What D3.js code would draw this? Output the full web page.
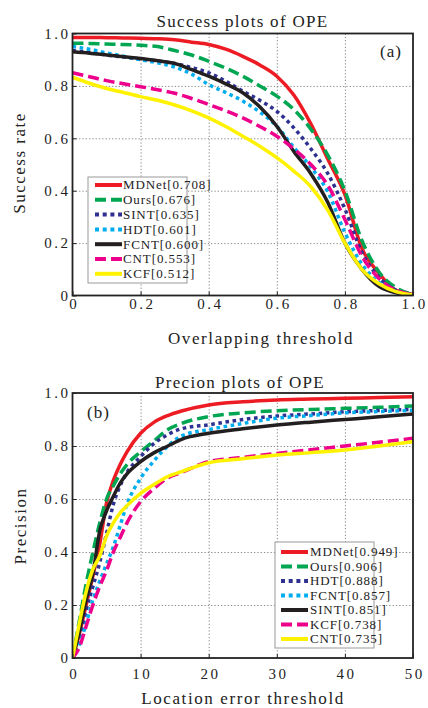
<!DOCTYPE html>
<html>
<head>
<meta charset="utf-8">
<script src="https://cdn.jsdelivr.net/npm/d3@7.9.0/dist/d3.min.js"></script>
<style>
body { margin: 0; background: #fff; }
text { font-family: "Liberation Serif", "Times New Roman", serif; fill: #222; }
</style>
</head>
<body>
<svg id="chart" width="428" height="708"></svg>
<script>
// success plot (a): overlap thresholds 0..1
const successX = [0, 0.05, 0.1, 0.15, 0.2, 0.25, 0.3, 0.35, 0.4, 0.45, 0.5, 0.55, 0.6, 0.65, 0.7, 0.75, 0.8, 0.85, 0.9, 0.95, 1];
const successNames = ['MDNet', 'Ours', 'SINT', 'HDT', 'FCNT', 'CNT', 'KCF'];
const successScores = ['0.708', '0.676', '0.635', '0.601', '0.600', '0.553', '0.512'];
const sucMDNet = [0.985, 0.985, 0.984, 0.983, 0.982, 0.98, 0.976, 0.967, 0.958, 0.94, 0.913, 0.88, 0.837, 0.765, 0.655, 0.52, 0.385, 0.18, 0.085, 0.02, 0.005];
const sucOurs = [0.963, 0.962, 0.96, 0.958, 0.955, 0.95, 0.935, 0.918, 0.894, 0.868, 0.837, 0.8, 0.761, 0.71, 0.635, 0.535, 0.4, 0.21, 0.09, 0.03, 0.005];
const sucSINT = [0.935, 0.928, 0.918, 0.91, 0.902, 0.895, 0.886, 0.87, 0.85, 0.818, 0.78, 0.745, 0.703, 0.64, 0.56, 0.465, 0.33, 0.165, 0.07, 0.02, 0.005];
const sucHDT = [0.95, 0.94, 0.926, 0.913, 0.9, 0.888, 0.872, 0.845, 0.805, 0.775, 0.742, 0.7, 0.646, 0.565, 0.49, 0.395, 0.24, 0.12, 0.05, 0.015, 0.003];
const sucFCNT = [0.93, 0.925, 0.918, 0.911, 0.905, 0.896, 0.886, 0.862, 0.837, 0.808, 0.774, 0.72, 0.646, 0.55, 0.465, 0.355, 0.2, 0.1, 0.035, 0.01, 0.0];
const sucCNT = [0.85, 0.835, 0.82, 0.808, 0.797, 0.785, 0.772, 0.752, 0.729, 0.705, 0.678, 0.645, 0.608, 0.56, 0.5, 0.42, 0.29, 0.15, 0.065, 0.02, 0.005];
const sucKCF = [0.833, 0.81, 0.79, 0.775, 0.759, 0.745, 0.727, 0.705, 0.678, 0.645, 0.608, 0.57, 0.526, 0.475, 0.415, 0.325, 0.2, 0.1, 0.045, 0.015, 0.003];

// precision plot (b): location error thresholds 0..50
const precisionX = [0, 1, 2, 3, 4, 5, 6, 7, 8, 10, 12, 14, 16, 20, 25, 30, 35, 40, 45, 50];
const precisionNames = ['MDNet', 'Ours', 'HDT', 'FCNT', 'SINT', 'KCF', 'CNT'];
const precisionScores = ['0.949', '0.906', '0.888', '0.857', '0.851', '0.738', '0.735'];
const preMDNet = [0, 0.09, 0.2, 0.31, 0.43, 0.585, 0.67, 0.73, 0.778, 0.848, 0.89, 0.915, 0.932, 0.955, 0.967, 0.974, 0.977, 0.98, 0.983, 0.986];
const preOurs = [0, 0.14, 0.28, 0.4, 0.51, 0.6, 0.65, 0.695, 0.73, 0.778, 0.82, 0.862, 0.885, 0.911, 0.925, 0.933, 0.938, 0.942, 0.946, 0.951];
const preHDT = [0, 0.06, 0.18, 0.27, 0.36, 0.47, 0.58, 0.65, 0.7, 0.76, 0.81, 0.843, 0.865, 0.88, 0.9, 0.913, 0.921, 0.929, 0.934, 0.938];
const preFCNT = [0, 0.05, 0.13, 0.22, 0.29, 0.355, 0.42, 0.5, 0.58, 0.678, 0.745, 0.8, 0.838, 0.862, 0.885, 0.905, 0.915, 0.925, 0.93, 0.935];
const preSINT = [0, 0.1, 0.22, 0.32, 0.48, 0.555, 0.61, 0.66, 0.695, 0.741, 0.775, 0.8, 0.825, 0.848, 0.865, 0.879, 0.89, 0.9, 0.91, 0.921];
const preKCF = [0, 0.04, 0.12, 0.2, 0.27, 0.33, 0.4, 0.455, 0.51, 0.59, 0.64, 0.68, 0.7, 0.741, 0.757, 0.772, 0.786, 0.8, 0.814, 0.829];
const preCNT = [0, 0.13, 0.25, 0.335, 0.385, 0.46, 0.51, 0.548, 0.575, 0.621, 0.655, 0.685, 0.703, 0.737, 0.752, 0.766, 0.775, 0.785, 0.8, 0.816];

const yTicks = [0, 0.2, 0.4, 0.6, 0.8, 1];

// same look for the n-th legend entry in both panels
const styles = [
    { color: '#ed1c24', dash: null },
    { color: '#00a651', dash: '11,5' },
    { color: '#2e3192', dash: '3.6,3.6' },
    { color: '#00aeef', dash: '3.6,3.6' },
    { color: '#231f20', dash: null },
    { color: '#ec008c', dash: '11,5' },
    { color: '#fff200', dash: null },
];

const svg = d3.select('#chart');
const left = 72.5, right = 413;

function yFmt(d) { return d === 0 ? '0' : d3.format('.1f')(d); }

function drawPanel(p) {
    let x = d3.scaleLinear().domain(p.xDomain).range([left, right]);
    let y = d3.scaleLinear().domain([0, 1]).range([p.bottom, p.top]);
    let g = svg.append('g');

    // dotted grid
    g.append('g').attr('transform', `translate(0,${p.bottom})`)
        .call(d3.axisBottom(x).tickValues(p.xTicks.slice(1, -1)).tickSize(-(p.bottom - p.top)).tickFormat(''))
        .call(s => s.select('.domain').remove())
        .selectAll('line').attr('stroke', '#8a8a8a').attr('stroke-dasharray', '1.3,2');
    g.append('g').attr('transform', `translate(${left},0)`)
        .call(d3.axisLeft(y).tickValues(yTicks.slice(1, -1)).tickSize(-(right - left)).tickFormat(''))
        .call(s => s.select('.domain').remove())
        .selectAll('line').attr('stroke', '#8a8a8a').attr('stroke-dasharray', '1.3,2');

    let clip = 'clip-' + p.id;
    svg.append('clipPath').attr('id', clip).append('rect')
        .attr('x', left).attr('y', p.top - 2).attr('width', right - left).attr('height', p.bottom - p.top + 2);

    let line = d3.line().x(d => x(d[0])).y(d => y(d[1])).curve(d3.curveMonotoneX);
    let curves = g.append('g').attr('clip-path', `url(#${clip})`);
    p.series.forEach((s, i) => {
        curves.append('path')
            .datum(p.xs.map((v, j) => [v, s[j]]))
            .attr('d', line)
            .attr('fill', 'none')
            .attr('stroke', styles[i].color)
            .attr('stroke-width', 3.5)
            .attr('stroke-dasharray', styles[i].dash);
    });

    g.append('rect').attr('x', left).attr('y', p.top)
        .attr('width', right - left).attr('height', p.bottom - p.top)
        .attr('fill', 'none').attr('stroke', '#222').attr('stroke-width', 1.8);

    // ticks + labels
    let ax = g.append('g').attr('transform', `translate(0,${p.bottom})`)
        .call(d3.axisBottom(x).tickValues(p.xTicks).tickSizeInner(-4).tickSizeOuter(0).tickPadding(p.xPad).tickFormat(p.xFmt));
    ax.select('.domain').remove();
    ax.selectAll('line').attr('stroke', '#222');
    ax.selectAll('text').style('font-size', '15px').style('letter-spacing', '2.5px').attr('dx', '1.2');

    let ay = g.append('g').attr('transform', `translate(${left},0)`)
        .call(d3.axisLeft(y).tickValues(yTicks).tickSizeInner(-4).tickSizeOuter(0).tickPadding(2).tickFormat(yFmt));
    ay.select('.domain').remove();
    ay.selectAll('line').attr('stroke', '#222');
    ay.selectAll('text').style('font-size', '15px').style('letter-spacing', '2.5px');

    g.append('text').attr('x', p.titleX).attr('y', p.titleY).attr('text-anchor', 'middle')
        .style('font-size', '17px').style('letter-spacing', '1.3px').text(p.title);
    g.append('text').attr('x', p.xLabelX).attr('y', p.xLabelY).attr('text-anchor', 'middle')
        .style('font-size', '17px').style('letter-spacing', '1.6px').text(p.xLabel);
    g.append('text').attr('transform', `translate(${p.yLabelX},${p.yLabelY}) rotate(-90)`).attr('text-anchor', 'middle')
        .style('font-size', '17px').style('letter-spacing', '1.5px').text(p.yLabel);
    g.append('text').attr('x', p.tagX).attr('y', p.tagY)
        .style('font-size', '17px').style('letter-spacing', '1px').text(p.tag);

    // legend
    let lg = g.append('g');
    lg.append('rect').attr('x', p.lx).attr('y', p.ly).attr('width', 99).attr('height', 106)
        .attr('fill', '#fff').attr('stroke', '#9a9a9a').attr('stroke-width', 1);
    p.names.forEach((n, i) => {
        let cy = p.ly + p.lrow0 + i * p.lstep;
        lg.append('line')
            .attr('x1', p.lx + p.lline[0]).attr('x2', p.lx + p.lline[1])
            .attr('y1', cy).attr('y2', cy)
            .attr('stroke', styles[i].color).attr('stroke-width', 4)
            .attr('stroke-dasharray', styles[i].dash === '3.6,3.6' ? '4,3.7' : styles[i].dash);
        lg.append('text').attr('x', p.lx + 35).attr('y', cy + 4.3)
            .style('font-size', '13px').style('letter-spacing', '0.9px')
            .text(`${n}[${p.scores[i]}]`);
    });
}

drawPanel({
    id: 'a', top: 33.5, bottom: 295.5,
    xDomain: [0, 1], xTicks: [0, 0.2, 0.4, 0.6, 0.8, 1], xFmt: yFmt, xPad: 3,
    xs: successX,
    series: [sucMDNet, sucOurs, sucSINT, sucHDT, sucFCNT, sucCNT, sucKCF],
    names: successNames, scores: successScores,
    title: 'Success plots of OPE', titleX: 242.5, titleY: 26.5,
    xLabel: 'Overlapping threshold', xLabelX: 261, xLabelY: 344,
    yLabel: 'Success rate', yLabelX: 25, yLabelY: 163,
    tag: '(a)', tagX: 380, tagY: 56.5,
    lx: 88, ly: 177, lrow0: 8, lstep: 14.8, lline: [7, 34],
});

drawPanel({
    id: 'b', top: 393, bottom: 658,
    xDomain: [0, 50], xTicks: [0, 10, 20, 30, 40, 50], xFmt: d3.format('d'), xPad: 10,
    xs: precisionX,
    series: [preMDNet, preOurs, preHDT, preFCNT, preSINT, preKCF, preCNT],
    names: precisionNames, scores: precisionScores,
    title: 'Precion plots of OPE', titleX: 240, titleY: 388,
    xLabel: 'Location error threshold', xLabelX: 243, xLabelY: 704,
    yLabel: 'Precision', yLabelX: 26, yLabelY: 526,
    tag: '(b)', tagX: 87, tagY: 418,
    lx: 275, ly: 542, lrow0: 10, lstep: 14.5, lline: [6, 33],
});
</script>
</body>
</html>
